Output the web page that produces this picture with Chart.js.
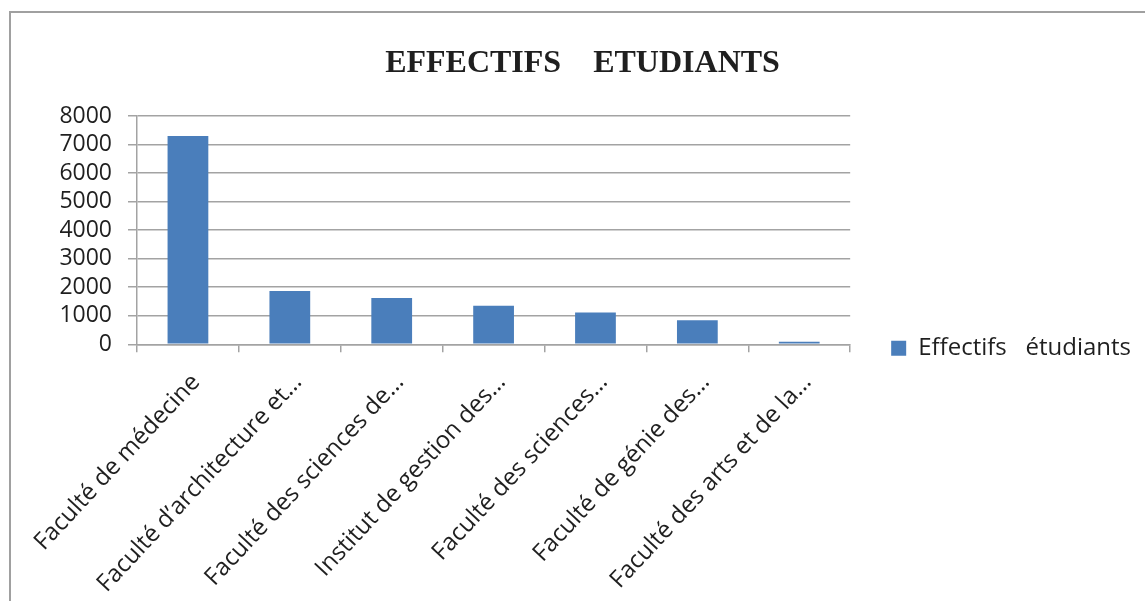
<!DOCTYPE html>
<html lang="fr">
<head>
<meta charset="utf-8">
<title>Effectifs étudiants</title>
<script src="https://cdn.jsdelivr.net/npm/chart.js@4"></script>
<style>
  html, body { margin: 0; padding: 0; background: #fff; overflow: hidden; }
  .frame {
    position: absolute; left: 9px; top: 11px;
    width: 1200px; height: 700px;
    border: 2px solid #a0a0a0;
  }
  .wrap { position: absolute; left: 0; top: 0; width: 1145px; height: 601px; }
</style>
</head>
<body>
<div class="frame"></div>
<div class="wrap"><canvas id="effectifs"></canvas></div>
<script>
var facultes = [
  'Faculté de médecine',
  'Faculté d\u2019architecture et…',
  'Faculté des sciences de…',
  'Institut de gestion des…',
  'Faculté des sciences…',
  'Faculté de génie des…',
  'Faculté des arts et de la…'
];
var effectifs = [7300, 1870, 1620, 1350, 1110, 840, 90];
var yTicks = [0, 1000, 2000, 3000, 4000, 5000, 6000, 7000, 8000];

const canvas = document.getElementById('effectifs');
const textColor = '#1f1f1f';
const gridColor = '#a3a3a3';
const fontFamily = "'Open Sans', sans-serif";

const data = {
  labels: facultes,
  datasets: [{
    label: 'Effectifs   étudiants',
    data: effectifs,
    backgroundColor: '#4a7ebb',
    borderWidth: 0,
    categoryPercentage: 1,
    barPercentage: 0.4
  }]
};

const config = {
  type: 'bar',
  data: data,
  options: {
    responsive: true,
    maintainAspectRatio: false,
    animation: false,
    layout: {
      padding: { left: 24, right: 4, top: 0, bottom: 0 }
    },
    plugins: {
      title: {
        display: true,
        text: 'EFFECTIFS    ETUDIANTS',
        color: textColor,
        font: { family: "'Liberation Serif', 'Times New Roman', serif", size: 32, weight: 'bold' },
        padding: { top: 45, bottom: 32.6 }
      },
      legend: {
        position: 'right',
        maxWidth: 320,
        // empty title only pushes the legend item down to the middle of the plot + labels block
        title: { display: true, text: '', padding: { top: 0, bottom: 81 } },
        labels: {
          boxWidth: 15,
          boxHeight: 15,
          padding: 41,
          color: textColor,
          font: { family: fontFamily, size: 24 }
        }
      },
      tooltip: { enabled: false }
    },
    scales: {
      x: {
        grid: {
          offset: true,
          drawOnChartArea: false,
          drawTicks: true,
          tickLength: 8,
          color: gridColor,
          lineWidth: 1.5
        },
        border: { color: gridColor, width: 1.5 },
        ticks: {
          autoSkip: false,
          minRotation: 47,
          maxRotation: 47,
          padding: 16,
          labelOffset: 8,
          color: textColor,
          font: { family: fontFamily, size: 24 }
        },
        afterFit: function (scale) { scale.height = 256.7; }
      },
      y: {
        min: 0,
        max: 8000,
        afterBuildTicks: function (scale) {
          scale.ticks = yTicks.map(function (v) { return { value: v }; });
        },
        grid: {
          color: gridColor,
          lineWidth: 1.5,
          tickLength: 9
        },
        border: { color: gridColor, width: 1.5 },
        ticks: {
          autoSkip: false,
          padding: 16,
          color: textColor,
          font: { family: fontFamily, size: 23 },
          callback: function (value) { return String(value); }
        },
        afterFit: function (scale) { scale.width = 113; }
      }
    }
  }
};

new Chart(canvas, config);
</script>
</body>
</html>
